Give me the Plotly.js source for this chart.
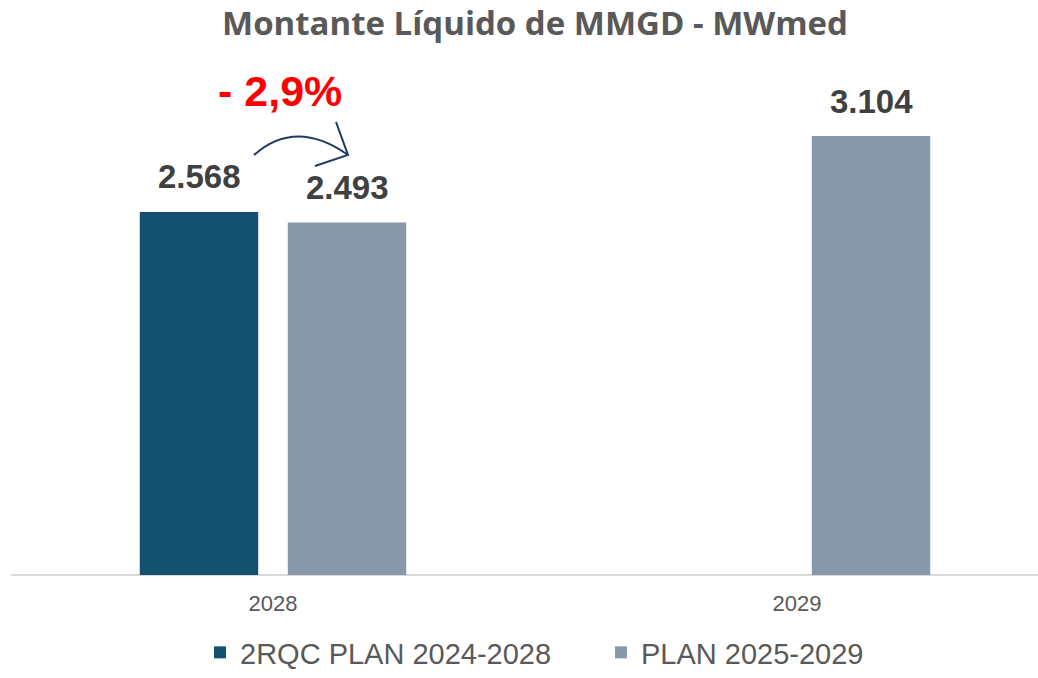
<!DOCTYPE html>
<html>
<head>
<meta charset="utf-8">
<script src="https://cdn.plot.ly/plotly-3.0.1.min.js"></script>
<style>html,body{margin:0;padding:0;background:#fff;}#chart{width:1038px;height:678px;}</style>
</head>
<body>
<div id="chart"></div>
<script>
// ---- data ----
const categories = ['2028', '2029'];
const series1Name = '2RQC PLAN 2024-2028';
const series1Values = [2568, null];
const series2Name = 'PLAN 2025-2029';
const series2Values = [2493, 3104];
const chartTitle = 'Montante Líquido de MMGD - MWmed';

// ---- helpers ----
function fmt(v) { return String(v).replace(/\B(?=(\d{3})+(?!\d))/g, '.'); }
const W = 1038, H = 678;
const M = {l: 11, r: 0, t: 66, b: 103};
const PW = W - M.l - M.r, PH = H - M.t - M.b;
function px(x) { return (x - M.l) / PW; }
function py(y) { return (H - M.b - y) / PH; }

const dark = '#14506F';
const grey = '#8798AA';
const labelColor = '#404040';
const textGrey = '#595959';
const barOffsetPx = 74;

const traces = [
  {type: 'bar', name: series1Name, x: categories, y: series1Values, marker: {color: dark}, hoverinfo: 'none'},
  {type: 'bar', name: series2Name, x: categories, y: series2Values, marker: {color: grey}, hoverinfo: 'none'}
];

const annotations = [];
[series1Values, series2Values].forEach((vals, si) => {
  vals.forEach((v, i) => {
    if (v == null) return;
    annotations.push({
      x: i, y: v, xref: 'x', yref: 'y',
      xshift: si === 0 ? -barOffsetPx : barOffsetPx, yshift: 35,
      text: '<b>' + fmt(v) + '</b>', showarrow: false,
      yanchor: 'middle', xanchor: 'center',
      font: {family: 'Liberation Sans, Arial, sans-serif', size: 33, color: labelColor}
    });
  });
});
// percentage change
const pct = (series2Values[0] / series1Values[0] - 1) * 100;
const pctText = (pct < 0 ? '- ' : '+ ') + Math.abs(pct).toFixed(1).replace('.', ',') + '%';
annotations.push({
  xref: 'paper', yref: 'paper', x: px(280), y: py(91),
  text: '<b>' + pctText + '</b>', showarrow: false, xanchor: 'center', yanchor: 'middle',
  font: {family: 'Liberation Sans, Arial, sans-serif', size: 43, color: '#FF0000'}
});

function P(x, y) { return px(x).toFixed(5) + ',' + py(y).toFixed(5); }
const arrowPath = 'M' + P(254, 155) + ' Q' + P(296, 118) + ' ' + P(348, 155);
const headPath = 'M' + P(336, 122) + ' L' + P(348, 155) + ' L' + P(315, 166);

const layout = {
  width: W, height: H,
  margin: M,
  paper_bgcolor: '#ffffff', plot_bgcolor: '#ffffff',
  separators: ',.',
  title: {
    text: '<b>' + chartTitle + '</b>',
    x: 535 / W, xref: 'container', xanchor: 'center',
    y: 1 - 23 / H, yref: 'container', yanchor: 'middle',
    font: {family: 'Open Sans, sans-serif', size: 33, color: textGrey}
  },
  barmode: 'group', bargap: 0.435, bargroupgap: 0.2,
  xaxis: {
    type: 'category', range: [-0.5, -0.5 + PW / 524],
    showgrid: false, zeroline: false, showline: false,
    ticks: '', ticklabelstandoff: 13,
    tickfont: {family: 'Liberation Sans, Arial, sans-serif', size: 22, color: textGrey}
  },
  yaxis: {
    range: [0, PH / 0.1414], showgrid: false, zeroline: true, zerolinecolor: '#D9D9D9', zerolinewidth: 2,
    showticklabels: false, ticks: '', showline: false
  },
  showlegend: true,
  legend: {
    orientation: 'h', xref: 'container', x: 200 / W, xanchor: 'left',
    yref: 'container', y: -4 / H, yanchor: 'bottom',
    entrywidth: 356,
    font: {family: 'Liberation Sans, Arial, sans-serif', size: 29, color: textGrey}
  },
  annotations: annotations,
  shapes: [
    {type: 'path', xref: 'paper', yref: 'paper', path: arrowPath, line: {color: '#1F3A5F', width: 2}},
    {type: 'path', xref: 'paper', yref: 'paper', path: headPath, line: {color: '#1F3A5F', width: 2}}
  ]
};

Plotly.newPlot('chart', traces, layout, {displayModeBar: false, staticPlot: true});
</script>
</body>
</html>
